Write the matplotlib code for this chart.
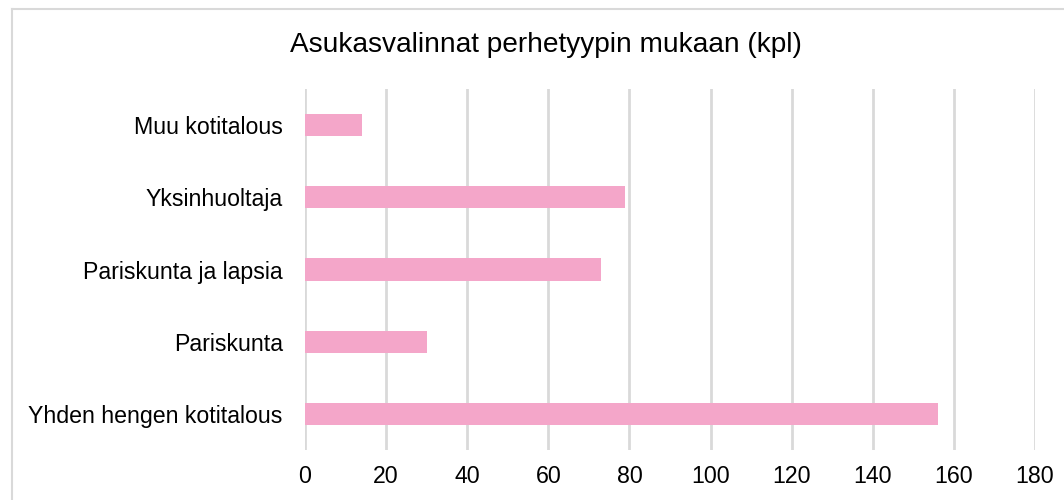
import matplotlib.pyplot as plt
from matplotlib.lines import Line2D

plt.rcParams["font.family"] = ["Liberation Sans", "DejaVu Sans"]

categories = ["Yhden hengen kotitalous", "Pariskunta", "Pariskunta ja lapsia",
              "Yksinhuoltaja", "Muu kotitalous"]
values = [156, 30, 73, 79, 14]
x_ticks = [0, 20, 40, 60, 80, 100, 120, 140, 160, 180]

fig = plt.figure(figsize=(10.64, 5.0), dpi=100)
ax = fig.add_axes([305 / 1064, 1 - 450 / 500, 730 / 1064, 361 / 500])

ax.barh(range(len(categories)), values, height=0.31, color="#F4A6C9", zorder=3)
ax.set_xlim(0, 180)
ax.set_ylim(-0.5, len(categories) - 0.5)
ax.set_xticks(x_ticks)
ax.set_yticks(range(len(categories)))
ax.set_yticklabels(categories)
ax.tick_params(axis="both", length=0, labelsize=16.7, colors="black")
ax.tick_params(axis="x", pad=11)
ax.tick_params(axis="y", pad=16)
ax.grid(axis="x", color="#D9D9D9", linewidth=2, zorder=0)
for side in ax.spines.values():
    side.set_visible(False)

fig.text(546 / 1064, 1 - 45 / 500, "Asukasvalinnat perhetyypin mukaan (kpl)",
         ha="center", va="center", fontsize=20.2)

# chart border (left and top edges visible)
fig.add_artist(Line2D([11.5 / 1064, 11.5 / 1064], [0, 1 - 9 / 500],
                      transform=fig.transFigure, color="#D9D9D9", linewidth=1.5))
fig.add_artist(Line2D([11.5 / 1064, 1], [1 - 9 / 500, 1 - 9 / 500],
                      transform=fig.transFigure, color="#D9D9D9", linewidth=1.5))

fig.savefig("out.png", dpi=100)
